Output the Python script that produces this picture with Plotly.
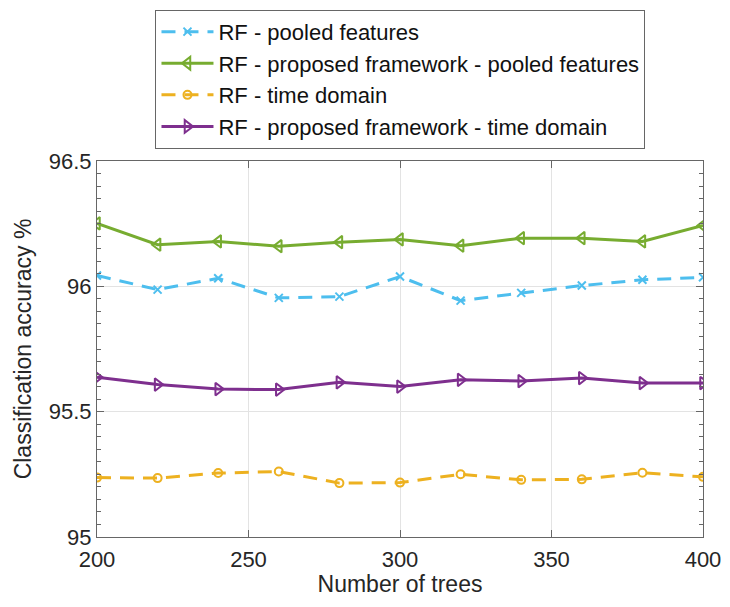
import plotly.graph_objects as go

trees = [200, 220, 240, 260, 280, 300, 320, 340, 360, 380, 400]
rf_pooled = [96.043, 95.987, 96.032, 95.954, 95.959, 96.039, 95.943, 95.974, 96.003, 96.026, 96.036]
rf_prop_pooled = [96.251, 96.166, 96.179, 96.160, 96.176, 96.187, 96.162, 96.192, 96.192, 96.179, 96.243]
rf_time = [95.237, 95.235, 95.255, 95.261, 95.215, 95.217, 95.250, 95.228, 95.230, 95.256, 95.240]
rf_prop_time = [95.637, 95.608, 95.590, 95.588, 95.617, 95.600, 95.627, 95.622, 95.634, 95.614, 95.614]

names = ["RF - pooled features", "RF - proposed framework - pooled features",
         "RF - time domain", "RF - proposed framework - time domain"]
colors = ["#4DBEEE", "#77AC30", "#EDB120", "#7E2F8E"]
dashes = ["dash", "solid", "dash", "solid"]
symbols = ["x-thin-open", "triangle-left-open", "circle-open", "triangle-right-open"]
series = [rf_pooled, rf_prop_pooled, rf_time, rf_prop_time]

FONT = "Liberation Sans, Arial"
fig = go.Figure()
for nm, c, d, s, ys in zip(names, colors, dashes, symbols, series):
    fig.add_trace(go.Scatter(
        x=trees, y=ys, name=nm, mode="lines+markers",
        line=dict(color=c, width=3, dash="solid" if d == "solid" else "14px,9px"),
        marker=dict(symbol=s, size=11 if "triangle" in s else 8,
                    line=dict(color=c, width=2), color=c),
    ))

axis_common = dict(
    showline=True, linecolor="#666666", linewidth=1.2, mirror="ticks",
    ticks="inside", ticklen=7, tickcolor="#666666",
    showgrid=True, gridcolor="#e3e3e3", gridwidth=1,
    zeroline=False, automargin=False,
    tickfont=dict(family=FONT, size=22, color="#262626"),
)

fig.update_xaxes(range=[200, 400], tickvals=[200, 250, 300, 350, 400],
                 ticklabelstandoff=2,
                 title=dict(text="Number of trees", font=dict(family=FONT, size=23, color="#262626"), standoff=0),
                 **axis_common)
fig.update_yaxes(range=[95, 96.5], tickvals=[95, 95.5, 96, 96.5], ticktext=["95", "95.5", "96", "96.5"],
                 minor=dict(ticks="inside", ticklen=4, dtick=0.05, tickcolor="#666666", showgrid=False),
                 title=dict(text="Classification accuracy %", font=dict(family=FONT, size=23, color="#262626"), standoff=10),
                 **axis_common)

# page body has an 8px default margin, so the figure is sized/offset to compensate
fig.update_layout(
    width=722, height=599,
    margin=dict(l=89, r=27, t=153, b=70, autoexpand=False),
    plot_bgcolor="white", paper_bgcolor="white",
    legend=dict(x=0.0965, y=1.402, xanchor="left", yanchor="top",
                bordercolor="#666666", borderwidth=1, bgcolor="white",
                font=dict(family=FONT, size=22, color="#111111"),
                itemwidth=52, tracegroupgap=0),
    showlegend=True,
)

fig.write_html("out.html")
